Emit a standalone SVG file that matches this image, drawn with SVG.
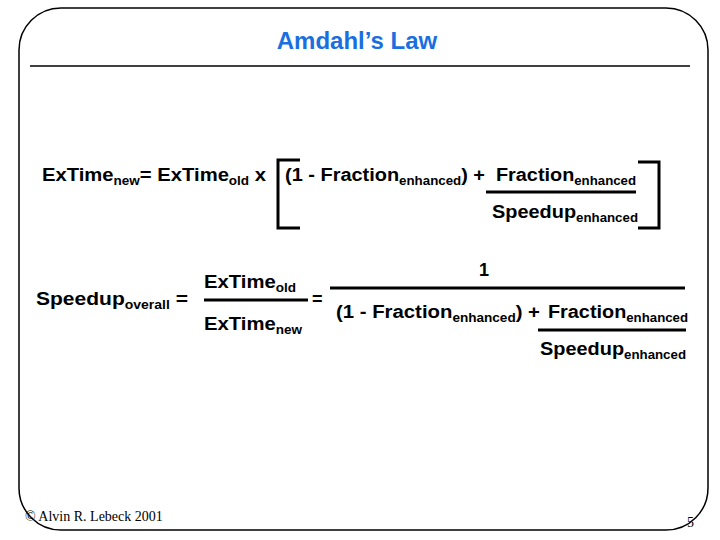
<svg xmlns="http://www.w3.org/2000/svg" width="720" height="540" viewBox="0 0 720 540">
<style>
.m{font-family:"Liberation Sans",Arial,sans-serif;font-weight:bold;font-size:18px;fill:#000}
.s{font-size:12px}
.l{stroke:#000;stroke-width:3;fill:none}
</style>
<rect x="0" y="0" width="720" height="540" fill="#fff"/>
<rect x="19" y="8" width="689" height="522" rx="42" fill="none" stroke="#000" stroke-width="1.5"/>
<text x="357" y="49" text-anchor="middle" font-family="Liberation Sans,Arial,sans-serif" font-weight="bold" font-size="24" fill="#1a6fe0">Amdahl’s Law</text>
<line x1="30" y1="66" x2="690" y2="66" stroke="#000" stroke-width="1.5"/>
<g id="eq1">
<text class="m" x="42" y="181" textLength="224" lengthAdjust="spacingAndGlyphs">ExTime<tspan class="s" dy="4">new</tspan><tspan dy="-4">= ExTime</tspan><tspan class="s" dy="4">old</tspan><tspan dy="-4"> x</tspan></text>
<path class="l" d="M300,160 H278 V228 H300"/>
<text class="m" x="285" y="181" textLength="200" lengthAdjust="spacingAndGlyphs">(1 - Fraction<tspan class="s" dy="4">enhanced</tspan><tspan dy="-4">) +</tspan></text>
<text class="m" x="496" y="181" textLength="140" lengthAdjust="spacingAndGlyphs">Fraction<tspan class="s" dy="4">enhanced</tspan></text>
<line class="l" x1="486" y1="192" x2="636" y2="192"/>
<text class="m" x="492" y="218" textLength="146" lengthAdjust="spacingAndGlyphs">Speedup<tspan class="s" dy="4">enhanced</tspan></text>
<path class="l" d="M638,162 H659 V228 H638"/>
</g>
<g id="eq2">
<text class="m" x="36" y="305" textLength="152" lengthAdjust="spacingAndGlyphs">Speedup<tspan class="s" dy="4">overall</tspan><tspan dy="-4">  =</tspan></text>
<text class="m" x="204" y="288" textLength="92" lengthAdjust="spacingAndGlyphs">ExTime<tspan class="s" dy="4">old</tspan></text>
<line class="l" x1="204" y1="300" x2="308" y2="300"/>
<text class="m" x="204" y="330" textLength="98" lengthAdjust="spacingAndGlyphs">ExTime<tspan class="s" dy="4">new</tspan></text>
<text class="m" x="312" y="305">=</text>
<text class="m" x="479" y="276">1</text>
<line class="l" x1="330" y1="288" x2="685" y2="288"/>
<text class="m" x="336" y="318" textLength="204" lengthAdjust="spacingAndGlyphs">(1 - Fraction<tspan class="s" dy="4">enhanced</tspan><tspan dy="-4">) +</tspan></text>
<text class="m" x="548" y="318" textLength="140" lengthAdjust="spacingAndGlyphs">Fraction<tspan class="s" dy="4">enhanced</tspan></text>
<line class="l" x1="538" y1="330" x2="686" y2="330"/>
<text class="m" x="540" y="355" textLength="146" lengthAdjust="spacingAndGlyphs">Speedup<tspan class="s" dy="4">enhanced</tspan></text>
</g>
<text x="25" y="521" font-family="Liberation Serif,serif" font-size="14" fill="#000">© Alvin R. Lebeck 2001</text>
<text x="687" y="527" font-family="Liberation Serif,serif" font-size="14" fill="#000">5</text>
</svg>
